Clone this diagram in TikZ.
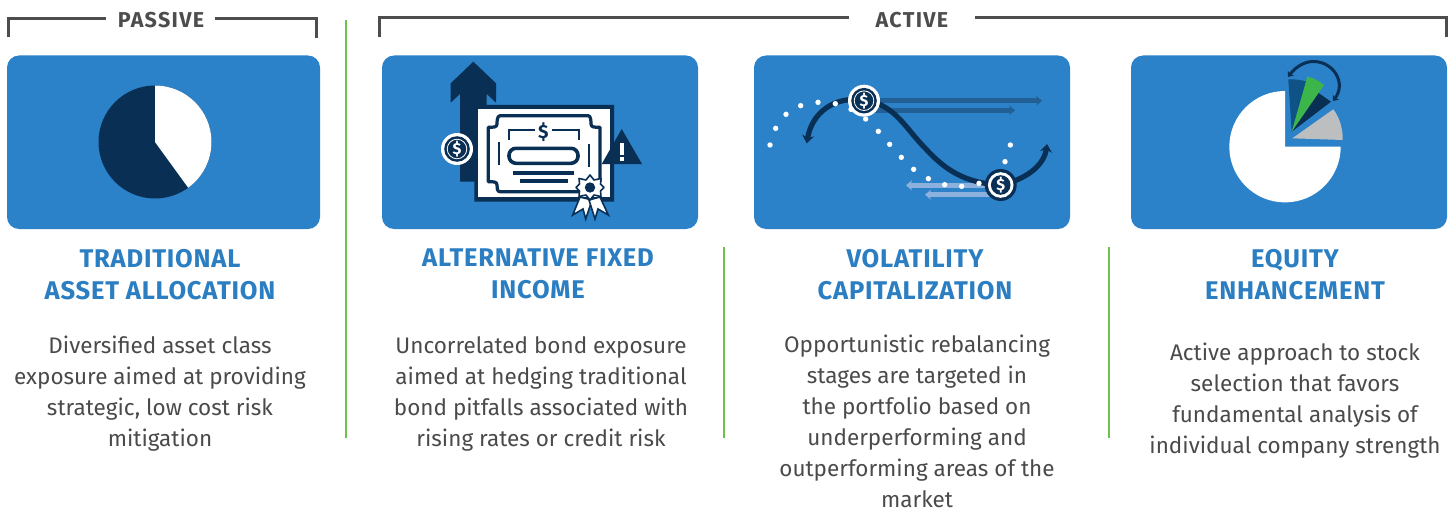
\documentclass[tikz,border=0pt]{standalone}
\usepackage{fontspec}
\setmainfont{Fira Sans}
\newfontfamily\headfont[LetterSpace=3]{Fira Sans}
\newfontfamily\capfont[LetterSpace=6]{Fira Sans}
\usetikzlibrary{arrows.meta}
\definecolor{cardblue}{HTML}{2B82C9}
\definecolor{navy}{HTML}{0A2F54}
\definecolor{headblue}{HTML}{2B7EC1}
\definecolor{bodygrey}{HTML}{4A4A4A}
\definecolor{rulegrey}{HTML}{4D4D4D}
\definecolor{divgreen}{HTML}{6CC24A}
\definecolor{midblue}{HTML}{215F95}
\definecolor{paleblue}{HTML}{8DB1DD}
\definecolor{wedgeblue}{HTML}{0F5285}
\definecolor{wedgegreen}{HTML}{3CB54A}
\definecolor{wedgegrey}{HTML}{BCBEC0}
\tikzset{
  card/.style={fill=cardblue,rounded corners=12pt},
  bracketline/.style={draw=rulegrey,line width=3pt},
  divider/.style={draw=divgreen,line width=2.6pt},
  capt/.style={text=rulegrey,font=\capfont\fontsize{21.5}{24}\selectfont\bfseries,inner sep=0pt},
  headtext/.style={text=headblue,align=center,font=\headfont\fontsize{25.6}{32}\selectfont\bfseries,inner sep=0pt,anchor=north},
  bodytext/.style={text=bodygrey,align=center,font=\fontsize{22.5}{31}\selectfont,inner sep=0pt,anchor=north},
  curve/.style={draw=navy,line width=5.2pt},
  wdot/.style={fill=white},
  darkarrow/.style={draw=midblue,line width=4.8pt,-{Stealth[length=6pt,width=10pt]}},
  palearrow/.style={draw=paleblue,line width=4.8pt,-{Stealth[length=6pt,width=10pt]}},
}
\newcommand{\lightcoin}[2]{%
  \fill[white] (#1,#2) circle (16);
  \fill[navy] (#1,#2) circle (12.8);
  \draw[white,line width=0.8pt] (#1,#2) circle (9.8);
  \node[text=white,inner sep=0pt,font=\fontsize{16}{16}\selectfont\bfseries] at (#1,#2) {\$};}
\newcommand{\darkcoin}[2]{%
  \fill[navy] (#1,#2) circle (16);
  \fill[white] (#1,#2) circle (12.8);
  \fill[navy] (#1,#2) circle (9.8);
  \node[text=white,inner sep=0pt,font=\fontsize{16}{16}\selectfont\bfseries] at (#1,#2) {\$};}
\begin{document}
\begin{tikzpicture}[x=1pt,y=-1pt]
\useasboundingbox (0,0) rectangle (1455,508);
% brackets
\node[capt] (passive) at (161,20) {PASSIVE};
\node[capt] (active) at (912,20) {ACTIVE};
\draw[bracketline] (8,37) -- (8,19) -- (106,19);
\draw[bracketline] (215,19) -- (316,19) -- (316,38);
\draw[bracketline] (379,37) -- (379,18) -- (849,18);
\draw[bracketline] (975,18) -- (1446,18) -- (1446,37);
% dividers
\draw[divider] (346,20) -- (346,438);
\draw[divider] (724,247) -- (724,438);
\draw[divider] (1109,247) -- (1109,438);
% cards
\fill[card] (7,55.5) rectangle (320,229);
\fill[card] (382,55.5) rectangle (698,229);
\fill[card] (754,55.5) rectangle (1070,229);
\fill[card] (1131,55.5) rectangle (1447,229);
% card 1 pie
\fill[navy] (155,142) circle (56.5);
\fill[white] (155,142) -- (155,85.5) arc[start angle=-90,end angle=54,radius=56.5] -- cycle;
% card 2 icon
\fill[navy] (473.3,61.7) -- (496,83.3) -- (496,102.7) -- (486.7,94) -- (486.7,120) -- (486.7,181.7) -- (460,181.7) -- (460,94) -- (450.7,102.7) -- (450.7,83.3) -- cycle;
\fill[navy] (478.3,105) -- (614,105) -- (614,201.7) -- (474.3,201.7) -- (474.3,181) -- (478.3,181) -- cycle;
\fill[white] (478.3,109.3) rectangle (610,197.3);
\draw[navy,line width=3.2pt,line join=round]
  (500,115.7) -- (588.3,115.7) .. controls (591,115.7) and (591,122) .. (591,124) .. controls (591,127.3) and (594,127.3) .. (600,127.3)
  -- (600,181.7) .. controls (594,181.7) and (591,181.7) .. (591,185) .. controls (591,188) and (591,191.7) .. (588.3,191.7)
  -- (500,191.7) .. controls (497,191.7) and (497,188) .. (497,185) .. controls (497,181.7) and (494,181.7) .. (488.3,181.7)
  -- (488.3,127.3) .. controls (494,127.3) and (497,127.3) .. (497,124) .. controls (497,122) and (497,115.7) .. (500,115.7) -- cycle;
\node[text=navy,inner sep=0pt,font=\fontsize{19}{19}\selectfont\bfseries] (certd) at (543.3,131.7) {\$};
\draw[navy,line width=2pt] (509,140) -- (509,130) -- (535,130);
\draw[navy,line width=2pt] (552.3,130) -- (579,130) -- (579,140);
\draw[navy,line width=2pt] (498.7,142.3) -- (498.7,165);
\draw[navy,line width=2pt] (589.3,144.3) -- (589.3,167.3);
\draw[navy,line width=3.6pt,fill=white,rounded corners=7pt] (509,148.3) rectangle (578,163.3);
\fill[navy] (513.3,170.7) rectangle (574,174.7);
\fill[navy] (520,178.7) rectangle (568.3,182.7);
% seal
\draw[navy,line width=1.6pt,fill=white,line join=miter] (580,197) -- (572.7,215) -- (583,209) -- (585.7,219) -- (592,200) -- cycle;
\draw[navy,line width=1.6pt,fill=white,line join=miter] (600,197) -- (608.3,215) -- (598,209) -- (595,219) -- (589,200) -- cycle;
\draw[navy,line width=1.6pt,fill=white,line join=round]
  (590,175) -- (594,180) -- (601,178.5) -- (600.5,184) -- (604,187.5) -- (600.5,191) -- (601,196.5) -- (594,195) -- (590,200) -- (586,195) -- (579,196.5) -- (579.5,191) -- (576,187.5) -- (579.5,184) -- (579,178.5) -- (586,180) -- cycle;
\fill[navy] (590,187.5) circle (5.2);
% warning
\fill[navy] (621.7,129) -- (642,164) -- (601.7,164) -- cycle;
\fill[white] (619.8,143) rectangle (623.6,154.5);
\fill[white] (619.8,156.8) rectangle (623.6,160.6);
\lightcoin{457}{149}
% card 3 icon
\draw[darkarrow] (880,100.7) -- (1042,100.7);
\draw[darkarrow] (875,110.3) -- (1015,110.3);
\draw[palearrow] (988,185.3) -- (906,185.3);
\draw[palearrow] (990,194.7) -- (925,194.7);
\draw[curve,-{Stealth[length=8pt,width=12pt]}] (863.3,100) .. controls (835,96) and (812,112) .. (806.7,143.3);
\draw[curve] (863.3,100) .. controls (895,104) and (905,128) .. (925,148) .. controls (945,170) and (965,183) .. (1000,185);
\draw[curve,-{Stealth[length=8pt,width=12pt]}] (1000,185) .. controls (1025,180) and (1044,166) .. (1047,144);
\foreach \dx/\dy in {60/285,77/235,108/193,152/167,204/157,256/161,303/178,347/207,385/244,419/283,454/322,491/358,535/386,584/404,635/409,687/400,765/335,781/285}
  \fill[wdot] ({750+\dx/3},{50+\dy/3}) circle (2.7);
\lightcoin{864}{100.7}
\darkcoin{1000.7}{185}
% card 4 icon
\fill[white] (1285,146.7) -- (1285,91) arc[start angle=-90,end angle=-360,radius=55.7] -- cycle;
\fill[wedgegrey] (1292.3,138.3) -- (1333.3,109.3) .. controls (1340,118) and (1343,130) .. (1342.7,140) -- cycle;
\fill[navy] (1291.7,131.7) -- (1331,101.7) -- (1316.7,91.7) -- cycle;
\fill[wedgeblue] (1291.7,131.7) -- (1288.3,79.3) .. controls (1295,79) and (1302,80) .. (1308,82) -- cycle;
\fill[wedgegreen] (1291.7,131.7) -- (1307.3,76.7) .. controls (1314,78) and (1319,81) .. (1324,85) -- cycle;
\draw[navy,line width=3pt,{Stealth[length=5pt,width=8pt]}-{Stealth[length=5pt,width=8pt]}] (1288,77) .. controls (1297,65) and (1307,61) .. (1315,61.5) .. controls (1335,63) and (1346,84) .. (1333,101);
% headings
\node[headtext] (h1) at (160,249) {TRADITIONAL\\ASSET ALLOCATION};
\node[headtext] (h2) at (538,249) {ALTERNATIVE FIXED\\INCOME};
\node[headtext] (h3) at (915,249) {VOLATILITY\\CAPITALIZATION};
\node[headtext] (h4) at (1295,249) {EQUITY\\ENHANCEMENT};
% body
\node[bodytext] (b1) at (160,336) {Diversified asset class\\exposure aimed at providing\\strategic, low cost risk\\mitigation};
\node[bodytext] (b2) at (541,336) {Uncorrelated bond exposure\\aimed at hedging traditional\\bond pitfalls associated with\\rising rates or credit risk};
\node[bodytext] (b3) at (917,335) {Opportunistic rebalancing\\stages are targeted in\\the portfolio based on\\underperforming and\\outperforming areas of the\\market};
\node[bodytext] (b4) at (1295,343) {Active approach to stock\\selection that favors\\fundamental analysis of\\individual company strength};
\end{tikzpicture}
\end{document}
